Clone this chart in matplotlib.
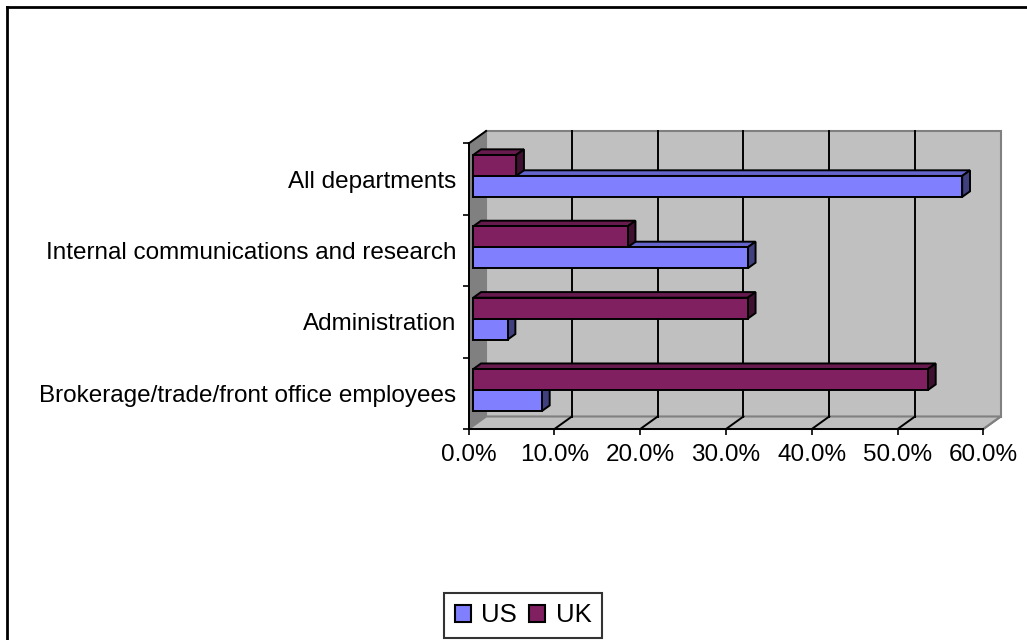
import matplotlib
matplotlib.use('Agg')
import matplotlib.pyplot as plt
from matplotlib.patches import Polygon, Patch
from matplotlib.lines import Line2D

plt.rcParams['font.family'] = ['Liberation Sans', 'DejaVu Sans']

categories = ['Brokerage/trade/front office employees', 'Administration',
              'Internal communications and research', 'All departments']
us = [8, 4, 32, 57]
uk = [53, 32, 18, 5]
ticks_pct = [0, 10, 20, 30, 40, 50, 60]

us_front, us_top, us_side = '#8080FF', '#6565CC', '#40407F'
uk_front, uk_top, uk_side = '#802060', '#661A4D', '#401030'

fig = plt.figure(figsize=(10.27, 6.4), dpi=100)
ax = fig.add_axes([468.7 / 1027, 211 / 640, 514.7 / 1027, 285.5 / 640])
ax.set_xlim(0, 60)
ax.set_ylim(0, 4)
ax.patch.set_visible(False)

# depth of the box, in data units (about 17 px across, 12.5 px up)
DX = 17.4 / 514.7 * 60
DY = 12.5 / 285.5 * 4
f0, f1 = 0.26, 0.71   # front/back of bars inside the depth
bh = 0.294            # bar thickness per series

wall = '#C0C0C0'
edge = '#808080'
ax.add_patch(Polygon([(DX, DY), (60 + DX, DY), (60 + DX, 4 + DY), (DX, 4 + DY)],
                     closed=True, fc=wall, ec=edge, lw=1.5, clip_on=False, zorder=0))
ax.add_patch(Polygon([(0, 0), (DX, DY), (DX, 4 + DY), (0, 4)],
                     closed=True, fc=edge, ec=edge, lw=1, clip_on=False, zorder=0))
ax.add_patch(Polygon([(0, 0), (60, 0), (60 + DX, DY), (DX, DY)],
                     closed=True, fc=wall, ec=edge, lw=1.5, clip_on=False, zorder=0))
ax.plot([0, DX], [4, 4 + DY], color='black', lw=1.4, clip_on=False, zorder=1)

# gridlines on back wall and floor
for t in ticks_pct[1:]:
    c = 'black' if t < 60 else edge
    if t < 60:
        ax.plot([t + DX, t + DX], [DY, 4 + DY], color='black', lw=1.4,
                clip_on=False, zorder=1)
    ax.plot([t, t + DX], [0, DY], color=c, lw=1.4, clip_on=False, zorder=1)

# bars, bottom to top so upper bars hide lower top faces
x0 = f0 * DX
ddx = (f1 - f0) * DX
ddy = (f1 - f0) * DY
z = 2
for i in range(len(categories)):
    c = i + 0.5 + f0 * DY
    for val, yb, cols in [(us[i], c - bh, (us_front, us_top, us_side)),
                          (uk[i], c, (uk_front, uk_top, uk_side))]:
        yt = yb + bh
        ax.add_patch(Polygon([(x0, yt), (x0 + val, yt), (x0 + val + ddx, yt + ddy),
                              (x0 + ddx, yt + ddy)], closed=True, fc=cols[1],
                             ec='black', lw=1.4, clip_on=False, zorder=z))
        ax.add_patch(Polygon([(x0 + val, yb), (x0 + val, yt), (x0 + val + ddx, yt + ddy),
                              (x0 + val + ddx, yb + ddy)], closed=True, fc=cols[2],
                             ec='black', lw=1.4, clip_on=False, zorder=z))
        ax.barh(yb, val, height=bh, left=x0, align='edge', color=cols[0],
                edgecolor='black', linewidth=1.4, zorder=z + 1, clip_on=False)
        z += 2

for s in ['top', 'right']:
    ax.spines[s].set_visible(False)
for s in ['left', 'bottom']:
    ax.spines[s].set_linewidth(1.4)
    ax.spines[s].set_zorder(50)

ax.set_yticks([0, 1, 2, 3, 4])
ax.set_yticklabels([])
ax.set_yticks([i + 0.5 for i in range(4)], minor=True)
ax.set_yticklabels(categories, minor=True)
ax.tick_params(axis='y', which='major', length=4.5, width=1.2, direction='out')
ax.tick_params(axis='y', which='minor', length=0, pad=9, labelsize=17.5)
ax.set_xticks(ticks_pct)
ax.set_xticklabels(['%.1f%%' % t for t in ticks_pct])
ax.tick_params(axis='x', length=4.5, width=1.2, direction='out', pad=6, labelsize=17.5)

# legend
handles = [Patch(fc=us_front, ec='black', lw=1.5), Patch(fc=uk_front, ec='black', lw=1.5)]
leg = fig.legend(handles, ['US', 'UK'], loc='center', bbox_to_anchor=(523 / 1027, 1 - 615.5 / 640),
                 ncol=2, fontsize=18.5, frameon=True, fancybox=False, handlelength=0.62,
                 handleheight=0.62, handletextpad=0.4, columnspacing=0.5,
                 borderpad=0.4, borderaxespad=0)
leg.get_frame().set_edgecolor('black')
leg.get_frame().set_linewidth(1.5)

# chart area border
fig.add_artist(Line2D([7 / 1027, 7 / 1027], [-0.05, 1 - 7 / 640], color='black', lw=2,
                      transform=fig.transFigure))
fig.add_artist(Line2D([7 / 1027, 1.05], [1 - 7 / 640, 1 - 7 / 640], color='black', lw=2,
                      transform=fig.transFigure))

fig.savefig('out.png', dpi=100)
